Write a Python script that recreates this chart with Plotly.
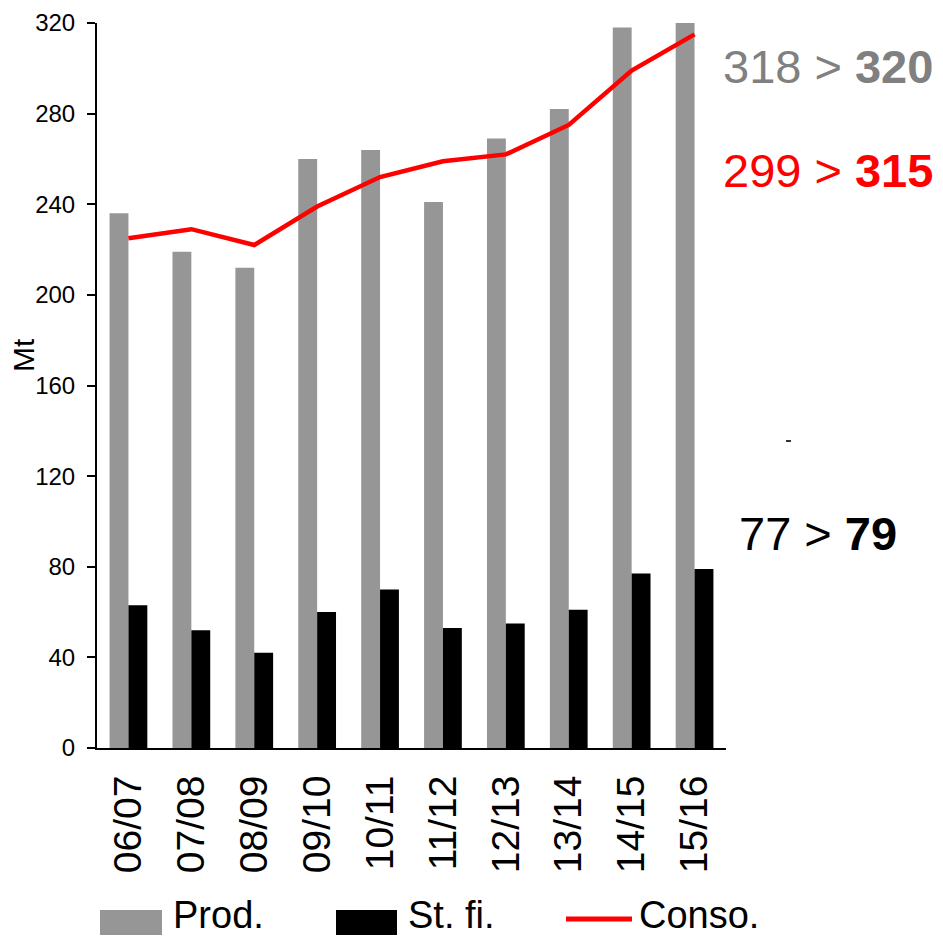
import plotly.graph_objects as go

# data (Mt)
seasons = ["06/07", "07/08", "08/09", "09/10", "10/11",
           "11/12", "12/13", "13/14", "14/15", "15/16"]
prod = [236, 219, 212, 260, 264, 241, 269, 282, 318, 320]
stocks = [63, 52, 42, 60, 70, 53, 55, 61, 77, 79]
conso = [225, 229, 222, 239, 252, 259, 262, 275, 299, 315]

# the page body has an 8px margin, so the figure is drawn 8px in
OFF = 8
W, H = 943 - OFF, 938 - OFF
ML, MR, MT, MB = 97 - OFF, 217, 23 - OFF, 190
FONT = "Arial, Liberation Sans, sans-serif"
GRAY = "#969696"
RED = "#ff0000"


def px_x(x):
    # page pixel -> paper coordinate
    return (x - OFF - ML) / (W - ML - MR)


def px_y(y):
    return (H - MB - (y - OFF)) / (H - MT - MB)


fig = go.Figure()
fig.add_trace(go.Bar(x=seasons, y=prod, name="Prod.", marker_color=GRAY,
                     marker_line_width=0))
fig.add_trace(go.Bar(x=seasons, y=stocks, name="St. fi.", marker_color="black",
                     marker_line_width=0))
fig.add_trace(go.Scatter(x=seasons, y=conso, name="Conso.", mode="lines",
                         line=dict(color=RED, width=4.5)))

fig.update_layout(
    width=W, height=H,
    margin=dict(l=ML, r=MR, t=MT, b=MB),
    paper_bgcolor="white", plot_bgcolor="white",
    font=dict(family=FONT, color="black"),
    showlegend=False,
    barmode="group", bargap=0.4, bargroupgap=0,
)
fig.update_yaxes(range=[0, 320], dtick=40, showgrid=False, zeroline=False,
                 showline=True, linecolor="black", linewidth=2,
                 ticks="outside", ticklen=8, tickwidth=2, tickcolor="black",
                 tickfont=dict(size=24), ticklabelstandoff=7, automargin=False)
fig.update_xaxes(showgrid=False, showline=True, linecolor="black", linewidth=2,
                 ticks="", tickangle=-90, tickfont=dict(size=39),
                 ticklabelstandoff=10, automargin=False)

# y axis label
fig.add_annotation(text="Mt", x=px_x(23), y=px_y(355), xref="paper", yref="paper",
                   textangle=-90, showarrow=False, font=dict(size=30),
                   xanchor="center", yanchor="middle")

# side notes
notes = [
    ("318 > <b>320</b>", "#808080", 828, 66),
    ("299 > <b>315</b>", RED, 828, 170),
    ("77 > <b>79</b>", "black", 818, 533),
]
for txt, col, nx, ny in notes:
    fig.add_annotation(text=txt, x=px_x(nx), y=px_y(ny), xref="paper", yref="paper",
                       showarrow=False, font=dict(size=47, color=col),
                       xanchor="center", yanchor="middle")
fig.add_shape(type="line", xref="paper", yref="paper",
              x0=px_x(786), x1=px_x(791), y0=px_y(441), y1=px_y(441),
              line=dict(color="#333333", width=2))

# legend drawn by hand (wide swatches)
fig.add_shape(type="rect", xref="paper", yref="paper",
              x0=px_x(100), x1=px_x(162), y0=px_y(935), y1=px_y(910),
              fillcolor=GRAY, line_width=0)
fig.add_shape(type="rect", xref="paper", yref="paper",
              x0=px_x(336), x1=px_x(397), y0=px_y(935), y1=px_y(910),
              fillcolor="black", line_width=0)
fig.add_shape(type="line", xref="paper", yref="paper",
              x0=px_x(566), x1=px_x(632), y0=px_y(919), y1=px_y(919),
              line=dict(color=RED, width=5))
for txt, lx in [("Prod.", 172), ("St. fi.", 407), ("Conso.", 638)]:
    fig.add_annotation(text=txt, x=px_x(lx), y=px_y(937), xref="paper", yref="paper",
                       showarrow=False, font=dict(size=38), borderpad=0,
                       xanchor="left", yanchor="bottom")

fig.write_html("out.html")
